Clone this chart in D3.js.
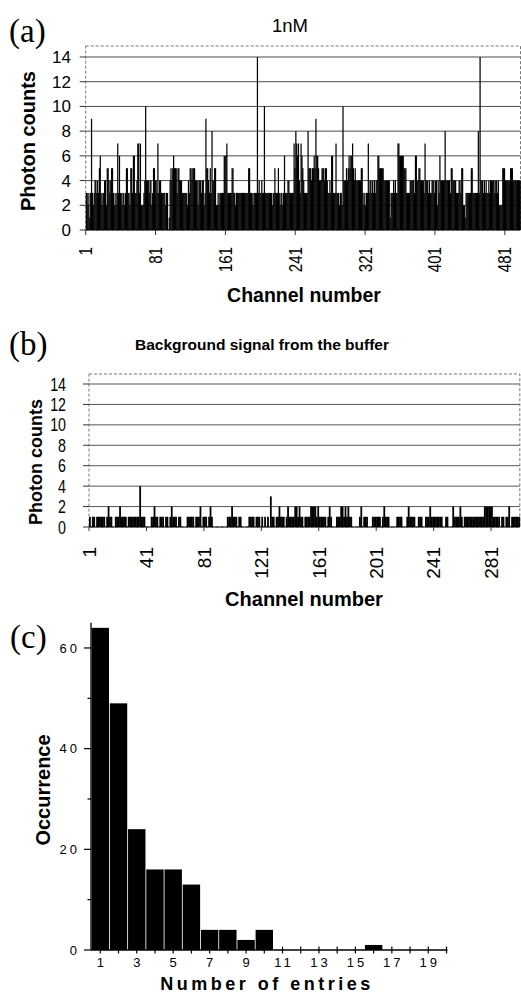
<!DOCTYPE html>
<html><head><meta charset="utf-8">
<script src="https://cdn.jsdelivr.net/npm/d3@7/dist/d3.min.js"></script>
<style>body{margin:0;background:#fff}svg{display:block}text{font-family:"Liberation Sans",Arial,sans-serif;fill:#000}</style>
</head><body><svg id="chart" width="521" height="994"></svg>
<script>
// ---------- data ----------
const titleA = "1nM";
const titleB = "Background signal from the buffer";
const countsA = [
3,3,2,3,1,3,9,3,2,3,
4,4,3,4,3,5,6,3,2,3,
3,4,4,2,5,5,4,3,4,5,
5,3,2,3,2,3,7,3,6,3,
3,2,3,3,2,3,5,5,3,3,
2,5,5,3,6,6,3,3,4,7,
7,3,7,2,2,2,3,4,10,4,
4,4,3,4,4,2,3,5,5,4,
4,3,7,3,4,4,3,3,3,3,
3,2,3,3,0,1,4,5,4,5,
6,5,5,5,3,5,5,4,4,4,
3,3,3,3,3,3,2,4,3,5,
5,4,5,5,5,4,4,4,2,4,
4,4,3,4,4,2,3,9,5,5,
4,3,5,3,8,4,4,5,5,2,
2,3,2,3,3,3,3,3,6,6,
6,7,3,3,3,3,3,5,5,3,
3,2,3,3,3,3,3,3,3,3,
3,3,3,3,3,3,5,5,3,3,
3,2,3,3,3,3,14,3,4,3,
3,4,3,3,10,3,3,3,3,3,
3,3,3,2,3,3,5,3,3,3,
5,3,2,3,3,2,3,6,3,3,
3,4,4,3,3,3,3,3,7,5,
8,7,6,7,4,3,7,6,5,4,
3,3,3,3,8,5,5,5,4,5,
5,6,5,9,6,6,5,4,4,4,
5,5,5,4,5,5,4,3,3,4,
3,6,6,3,3,3,7,3,3,3,
2,3,3,2,10,4,4,4,5,4,
5,6,5,6,6,7,5,4,5,4,
4,4,4,4,4,5,5,3,2,3,
2,3,3,7,3,4,4,3,4,3,
4,3,4,4,6,6,5,5,5,5,
5,4,4,4,4,4,4,4,1,3,
3,3,4,3,4,3,3,7,7,6,
6,6,6,6,5,5,5,3,3,3,
3,4,4,4,4,4,3,6,6,4,
4,5,5,4,4,4,4,3,7,4,
4,4,3,4,3,3,4,4,4,3,
4,4,2,4,3,6,4,4,4,4,
4,8,4,4,4,4,4,3,5,5,
4,4,4,4,3,3,3,4,4,3,
5,5,2,2,1,3,3,3,3,3,
3,5,5,3,3,3,3,3,3,8,
3,14,4,4,4,3,4,3,4,3,
3,4,3,4,4,4,4,4,3,4,
4,3,4,2,2,2,2,5,5,5,
4,4,4,4,4,4,5,5,5,4,
4,4,4,4,4,4,4,4
];
const countsB = [
1,0,1,1,0,1,1,1,1,1,
1,0,1,2,1,1,0,0,1,1,
1,2,1,1,1,1,0,1,1,1,
1,1,1,1,1,4,1,1,1,0,
0,0,0,1,1,2,1,1,0,1,
1,1,0,1,1,0,1,2,1,1,
1,0,1,1,0,0,0,0,1,1,
1,1,1,0,1,1,1,2,0,1,
1,1,0,1,2,1,0,0,0,0,
0,0,0,0,0,0,1,1,1,2,
1,1,1,0,1,1,0,0,0,0,
0,1,1,1,1,0,1,1,1,0,
1,0,1,0,1,0,3,1,1,0,
1,1,2,1,1,1,0,1,2,1,
1,1,1,2,2,1,2,1,1,0,
1,1,1,1,2,2,2,2,1,2,
1,1,1,1,1,0,1,2,1,0,
0,0,1,1,1,2,2,1,2,1,
2,1,1,0,0,0,0,0,1,2,
0,1,1,1,0,0,0,1,1,1,
1,1,1,0,1,2,1,1,1,0,
0,0,0,0,1,1,1,1,0,0,
0,1,2,1,1,1,1,0,0,1,
1,1,0,0,1,1,1,2,1,1,
1,1,1,1,1,1,0,0,1,1,
0,0,0,2,1,1,1,1,2,1,
0,1,1,1,1,1,1,1,1,1,
1,1,1,1,1,2,2,2,2,2,
2,1,1,1,1,1,0,1,1,0,
1,1,2,0,1,1,1,1,1,1
];
const entriesC = [1,2,3,4,5,6,7,8,9,10,11,12,13,14,15,16,17,18,19,20];
const occurrenceC = [64,49,24,16,16,13,4,4,2,4,0,0,0,0,0,1,0,0,0,0];
const yTicksAB = [0,2,4,6,8,10,12,14];
const xTicksA = [1,81,161,241,321,401,481];
const xTicksB = [1,41,81,121,161,201,241,281];
const yTicksC = [0,20,40,60];
const yMinorC = [10,30,50];
const xTickLabelsC = [1,3,5,7,9,11,13,15,17,19];

// ---------- drawing ----------
const svg = d3.select("#chart");

function channelPanel(g, data, xs, ys, frameTop, grid) {
  const [x0, x1] = xs.range();
  const [y0] = ys.range();
  g.selectAll("line.grid").data(yTicksAB.filter(d => d > 0)).join("line")
    .attr("x1", x0).attr("x2", x1).attr("y1", d => ys(d)).attr("y2", d => ys(d))
    .attr("stroke", grid).attr("stroke-width", 1);
  g.append("rect").attr("x", x0).attr("y", frameTop).attr("width", x1 - x0).attr("height", y0 - frameTop)
    .attr("fill", "none").attr("stroke", "#777").attr("stroke-width", 1).attr("stroke-dasharray", "3,2");
  g.append("g").selectAll("rect").data(data).join("rect")
    .attr("x", (d, i) => xs(i + 1))
    .attr("width", (d, i) => xs(i + 2) - xs(i + 1) + 0.35)
    .attr("y", d => ys(d)).attr("height", d => y0 - ys(d))
    .attr("fill", "#000");
  g.append("line").attr("x1", x0).attr("x2", x1).attr("y1", y0).attr("y2", y0)
    .attr("stroke", "#000").attr("stroke-width", 1.2);
  g.selectAll("line.yt").data(yTicksAB).join("line")
    .attr("x1", x0 - 6).attr("x2", x0).attr("y1", d => ys(d)).attr("y2", d => ys(d))
    .attr("stroke", "#333");
}

// Panel (a)
const xA = d3.scaleLinear().domain([1, countsA.length + 1]).range([85.7, 520.5]);
const yA = d3.scaleLinear().domain([0, 14]).range([230, 57]);
const gA = svg.append("g");
channelPanel(gA, countsA, xA, yA, 46, "#4d4d4d");
gA.selectAll("text.yl").data(yTicksAB).join("text")
  .attr("x", 71).attr("y", d => yA(d) + 6).attr("text-anchor", "end")
  .attr("font-size", 17).text(d => d);
gA.selectAll("line.xt").data(xTicksA).join("line")
  .attr("x1", d => xA(d)).attr("x2", d => xA(d)).attr("y1", 230).attr("y2", 235)
  .attr("stroke", "#333");
gA.selectAll("text.xl").data(xTicksA).join("text")
  .attr("transform", d => `translate(${xA(d) + 6.5},247) rotate(-90) scale(0.84,1)`)
  .attr("text-anchor", "end").attr("font-size", 18).text(d => d);
gA.append("text").attr("x", 290).attr("y", 32).attr("text-anchor", "middle")
  .attr("font-size", 18.5).text(titleA);
gA.append("text").attr("transform", "translate(35,141) rotate(-90)").attr("text-anchor", "middle")
  .attr("font-size", 20).attr("font-weight", "bold").text("Photon counts");
gA.append("text").attr("x", 304).attr("y", 302).attr("text-anchor", "middle")
  .attr("font-size", 19.5).attr("font-weight", "bold").text("Channel number");
svg.append("text").attr("x", 9).attr("y", 42).attr("font-size", 33)
  .style("font-family", "'Liberation Serif',serif").text("(a)");

// Panel (b)
const xB = d3.scaleLinear().domain([1, countsB.length + 1]).range([89, 519.8]);
const yB = d3.scaleLinear().domain([0, 14]).range([527, 384]);
const gB = svg.append("g");
channelPanel(gB, countsB, xB, yB, 374, "#555");
gB.selectAll("text.yl").data(yTicksAB).join("text")
  .attr("transform", d => `translate(66,${yB(d) + 6.5}) scale(0.75,1)`).attr("text-anchor", "end")
  .attr("font-size", 19).text(d => d);
gB.selectAll("line.xt").data(xTicksB).join("line")
  .attr("x1", d => xB(d)).attr("x2", d => xB(d)).attr("y1", 527).attr("y2", 531)
  .attr("stroke", "#333");
gB.selectAll("text.xl").data(xTicksB).join("text")
  .attr("transform", d => `translate(${xB(d) + 6.8},547) rotate(-90)`)
  .attr("text-anchor", "end").attr("font-size", 19).text(d => d);
gB.append("text").attr("x", 262).attr("y", 350).attr("text-anchor", "middle")
  .attr("font-size", 15.5).attr("font-weight", "bold").text(titleB);
gB.append("text").attr("transform", "translate(41.5,462) rotate(-90)").attr("text-anchor", "middle")
  .attr("font-size", 18).attr("font-weight", "bold").text("Photon counts");
gB.append("text").attr("x", 304).attr("y", 606).attr("text-anchor", "middle")
  .attr("font-size", 20).attr("font-weight", "bold").text("Channel number");
svg.append("text").attr("x", 9).attr("y", 355).attr("font-size", 33)
  .style("font-family", "'Liberation Serif',serif").text("(b)");

// Panel (c)
const xC = d3.scaleLinear().domain([1, 19]).range([100.3, 428.3]);
const yC = d3.scaleLinear().domain([0, 65]).range([950, 622.8]);
const gC = svg.append("g");
const bw = 17.4;
gC.selectAll("rect").data(occurrenceC).join("rect")
  .attr("x", (d, i) => xC(entriesC[i]) - bw / 2).attr("width", bw)
  .attr("y", d => yC(d)).attr("height", d => 950 - yC(d))
  .attr("fill", "#000");
gC.append("line").attr("x1", 91).attr("x2", 91).attr("y1", yC(0)).attr("y2", yC(65))
  .attr("stroke", "#000").attr("stroke-width", 1.3);
gC.append("line").attr("x1", 91).attr("x2", xC(20.05)).attr("y1", yC(0)).attr("y2", yC(0))
  .attr("stroke", "#000").attr("stroke-width", 1.3);
gC.selectAll("line.yt").data(yTicksC).join("line")
  .attr("x1", 84).attr("x2", 91).attr("y1", d => yC(d)).attr("y2", d => yC(d))
  .attr("stroke", "#000").attr("stroke-width", 1.2);
gC.selectAll("line.ym").data(yMinorC).join("line")
  .attr("x1", 87.5).attr("x2", 91).attr("y1", d => yC(d)).attr("y2", d => yC(d))
  .attr("stroke", "#000").attr("stroke-width", 1.2);
gC.selectAll("line.xt").data(entriesC).join("line")
  .attr("x1", d => xC(d)).attr("x2", d => xC(d)).attr("y1", 946.5).attr("y2", 953.5)
  .attr("stroke", "#000").attr("stroke-width", 1.2);
gC.selectAll("text.yl").data(yTicksC).join("text")
  .attr("x", 80).attr("y", d => yC(d) + 4.7).attr("text-anchor", "end")
  .attr("font-size", 13).attr("letter-spacing", 3).text(d => d);
gC.selectAll("text.xl").data(xTickLabelsC).join("text")
  .attr("x", d => xC(d) + 1.5).attr("y", 967).attr("text-anchor", "middle")
  .attr("font-size", 13).attr("letter-spacing", 3).text(d => d);
gC.append("text").attr("transform", "translate(50,790) rotate(-90)").attr("text-anchor", "middle")
  .attr("font-size", 20).attr("font-weight", "bold").text("Occurrence");
gC.append("text").attr("x", 267).attr("y", 990).attr("text-anchor", "middle")
  .attr("font-size", 18).attr("font-weight", "bold").attr("letter-spacing", 3.5).text("Number of entries");
svg.append("text").attr("x", 10).attr("y", 648).attr("font-size", 33)
  .style("font-family", "'Liberation Serif',serif").text("(c)");
</script></body></html>
